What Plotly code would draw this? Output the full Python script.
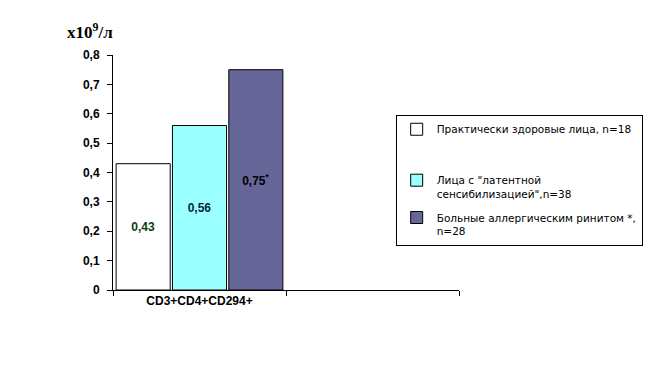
import plotly.graph_objects as go

categories = ["CD3+CD4+CD294+", " "]
series_names = [
    "Практически здоровые лица, n=18<br> <br> ",
    "Лица с \"латентной<br>сенсибилизацией\",n=38",
    "Больные аллергическим ринитом *,<br>n=28",
]
series_values = [0.43, 0.56, 0.75]
value_labels = ["0,43", "0,56", "0,75<sup>*</sup>"]
label_colors = ["#0b3d0b", "#0b1f3d", "#000000"]
bar_colors = ["#FFFFFF", "#99FFFF", "#666699"]
y_ticks = [0, 0.1, 0.2, 0.3, 0.4, 0.5, 0.6, 0.7, 0.8]
y_tick_labels = ["0", "0,1", "0,2", "0,3", "0,4", "0,5", "0,6", "0,7", "0,8"]

fig = go.Figure()
for name, val, lab, lc, col in zip(series_names, series_values, value_labels, label_colors, bar_colors):
    fig.add_trace(go.Bar(
        x=[categories[0]], y=[val], name=name,
        marker=dict(color=col, line=dict(color="black", width=1)),
        text=[lab], textposition="inside", insidetextanchor="middle",
        textangle=0,
        textfont=dict(family="Liberation Sans", size=12, color=lc, weight="bold"),
        legendgroup=name,
    ))

fig.update_layout(
    width=655, height=380,
    margin=dict(l=105, r=204, t=47, b=98, autoexpand=False),
    paper_bgcolor="white", plot_bgcolor="white",
    separators=", ",
    barmode="group", bargap=0.023, bargroupgap=0.04,
    font=dict(family="Liberation Sans", size=12, color="black"),
    showlegend=True,
    legend=dict(
        x=0.817, y=0.745, xanchor="left", yanchor="top",
        bordercolor="black", borderwidth=1, bgcolor="white",
        font=dict(family="DejaVu Sans", size=10.5, color="black"),
        valign="top", tracegroupgap=7, traceorder="grouped",
        itemwidth=30,
    ),
    uniformtext=dict(mode="show", minsize=8),
)

fig.update_xaxes(
    type="category", categoryorder="array", categoryarray=categories,
    range=[-0.5, 1.5], tickson="boundaries", ticks="outside", ticklen=5,
    tickcolor="black", showline=True, linecolor="black", linewidth=1,
    showgrid=False, zeroline=False, automargin=False,
    tickfont=dict(family="Liberation Sans", size=12, color="black", weight="bold"),
)
fig.update_yaxes(
    range=[0, 0.8], tickvals=y_ticks, ticktext=y_tick_labels,
    ticks="outside", ticklen=5, tickcolor="black", ticklabelstandoff=5,
    showline=True, linecolor="black", linewidth=1,
    showgrid=False, zeroline=False, automargin=False,
    tickfont=dict(family="Liberation Sans", size=12, color="black", weight="bold"),
)

fig.add_annotation(
    text="x10<sup>9</sup>/л", xref="paper", yref="paper",
    x=-0.066, y=1.047, xanchor="center", yanchor="bottom", showarrow=False,
    font=dict(family="Liberation Serif", size=17, color="black", weight="bold"),
)

fig.write_html("out.html")
